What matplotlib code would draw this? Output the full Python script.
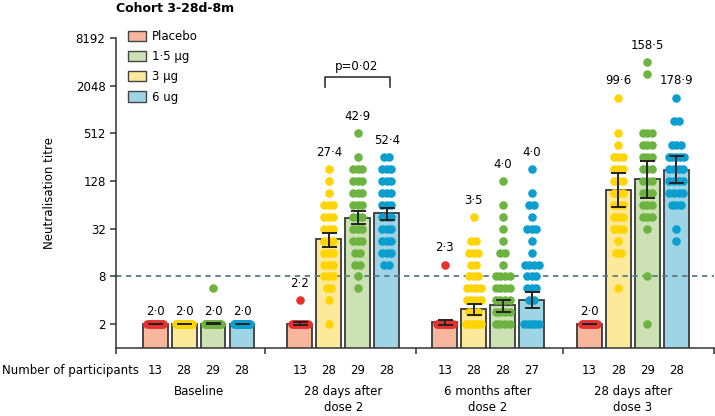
import numpy as np
import matplotlib.pyplot as plt
from matplotlib.patches import Patch
from matplotlib.ticker import NullLocator

"""
Cohort 3-28d-8m neutralisation titres, GMT bars with individual values
"""

timepoints = ["Baseline", "28 days after\ndose 2", "6 months after\ndose 2",
              "28 days after\ndose 3"]
# bar order inside each group: placebo, 3 ug, 1.5 ug, 6 ug
arm_fill = ["#f8b79c", "#fde99a", "#cde2b4", "#9dd5e6"]
arm_dot = ["#e8312f", "#ffd400", "#6db33f", "#0a9fcf"]

gmt_bar = [[2.0, 2.0, 2.0, 2.0],
           [2.0, 23.5, 44.0, 50.0],
           [2.1, 3.1, 3.5, 4.0],
           [2.0, 99.6, 135.0, 178.9]]
ci_low = [[2.0, 2.0, 2.0, 2.0],
          [1.95, 18.9, 36.7, 41.3],
          [1.95, 2.6, 2.83, 3.16],
          [2.0, 59.6, 77.6, 120.0]]
ci_high = [[2.0, 2.0, 2.05, 2.0],
           [2.15, 27.9, 53.0, 58.6],
           [2.25, 3.56, 4.0, 5.13],
           [2.0, 163.0, 228.0, 262.0]]
gmt_text = [["2·0", "2·0", "2·0", "2·0"],
            ["2·2", "27·4", "42·9", "52·4"],
            ["2·3", "3·5", "4·0", "4·0"],
            ["2·0", "99·6", "158·5", "178·9"]]
n_part = [[13, 28, 29, 28],
          [13, 28, 29, 28],
          [13, 28, 28, 27],
          [13, 28, 29, 28]]

# individual titres as (value, count)
baseline_dots = [
    [(2, 13)],
    [(2, 28)],
    [(2, 28), (5.66, 1)],
    [(2, 28)],
]
d28_dose2_dots = [
    [(2, 12), (4, 1)],
    [(181, 1), (128, 1), (90.5, 1), (64, 3), (45, 3), (32, 3), (22.6, 3),
     (16, 3), (11.3, 3), (8, 3), (5.66, 2), (4, 1), (2, 1)],
    [(512, 1), (256, 1), (181, 3), (128, 3), (90.5, 3), (64, 3), (45, 3),
     (32, 3), (22.6, 3), (16, 2), (11.3, 2), (8, 1), (5.66, 1)],
    [(256, 2), (181, 3), (128, 3), (90.5, 3), (64, 3), (45, 3), (32, 3),
     (22.6, 3), (16, 3), (11.3, 2)],
]
m6_dose2_dots = [
    [(2, 12), (11.3, 1)],
    [(45, 1), (22.6, 2), (16, 3), (11.3, 2), (8, 3), (5.66, 4), (4, 4),
     (2.83, 3), (2, 6)],
    [(128, 1), (64, 1), (45, 1), (32, 1), (22.6, 1), (16, 2), (11.3, 1),
     (8, 4), (5.66, 4), (4, 4), (2.83, 4), (2, 4)],
    [(181, 1), (90.5, 1), (64, 2), (45, 1), (32, 3), (22.6, 1), (16, 1),
     (11.3, 4), (8, 3), (5.66, 3), (4, 2), (2, 5)],
]
d28_dose3_dots = [
    [(2, 13)],
    [(1448, 1), (512, 1), (362, 1), (256, 3), (181, 3), (128, 3), (90.5, 3),
     (64, 3), (45, 3), (32, 3), (22.6, 1), (16, 2), (5.66, 1)],
    [(4096, 1), (2896, 1), (512, 3), (362, 3), (256, 3), (181, 3), (128, 3),
     (90.5, 3), (64, 3), (45, 3), (32, 1), (8, 1), (2, 1)],
    [(1448, 1), (724, 2), (362, 3), (256, 5), (181, 4), (128, 4), (90.5, 4),
     (64, 3), (32, 1), (22.6, 1)],
]
all_dots = [baseline_dots, d28_dose2_dots, m6_dose2_dots, d28_dose3_dots]

y_ticks = [2, 8, 32, 128, 512, 2048, 8192]

plt.rcParams['font.family'] = 'DejaVu Sans'
fs = 8.5

fig = plt.figure(figsize=(7.15, 4.16), dpi=100)
ax = fig.add_axes([116 / 715, 68 / 416, 598 / 715, 310 / 416])
ax.set_yscale('log', base=2)
ax.set_ylim(1, 8192)
ax.set_xlim(-1.35, 19.3)

ax.axhline(8, color='#5b7b8b', lw=1.3, ls=(0, (3, 2.5)), zorder=2)

step, maxw = 0.16, 0.27
for g in range(4):
    for b in range(4):
        x = g * 5 + b
        h = gmt_bar[g][b]
        ax.bar(x, h, width=0.86, bottom=0, color=arm_fill[b],
               edgecolor='#3a3a3a', lw=1.3, zorder=1)
        xs, ys = [], []
        for v, n in all_dots[g][b]:
            if (n - 1) / 2 * step > maxw:
                off = np.linspace(-maxw, maxw, n)
            else:
                off = (np.arange(n) - (n - 1) / 2) * step
            xs += list(x + off)
            ys += [v] * n
        ax.scatter(xs, ys, s=38, color=arm_dot[b], linewidths=0, zorder=3)
        ax.errorbar(x, h, yerr=[[h - ci_low[g][b]], [ci_high[g][b] - h]],
                    fmt='none', ecolor='#222222', elinewidth=1.4,
                    capsize=5.4, capthick=1.4, zorder=4)
        top = h if g == 0 else max(v for v, n in all_dots[g][b])
        dy = 9 if top <= 2 else 12
        ax.annotate(gmt_text[g][b], (x, top), xytext=(0, dy),
                    textcoords='offset points', ha='center', va='center',
                    fontsize=fs)
        ax.text(x, -0.071, str(n_part[g][b]), transform=ax.get_xaxis_transform(),
                ha='center', va='center', fontsize=fs)
    ax.text(g * 5 + 1.5, -0.118, timepoints[g], transform=ax.get_xaxis_transform(),
            ha='center', va='top', fontsize=fs, linespacing=1.3)

ax.text(-0.55, -0.071, "Number of participants", transform=ax.get_xaxis_transform(),
        ha='right', va='center', fontsize=fs)

# significance bracket
ax.plot([5.85, 5.85, 8.1, 8.1], [1960, 2620, 2620, 1960], color='#333333',
        lw=1.2, zorder=4)
ax.annotate("p=0·02", (6.97, 2620), xytext=(0, 8), textcoords='offset points',
            ha='center', va='center', fontsize=fs)

ax.set_yticks(y_ticks)
ax.set_yticklabels([str(t) for t in y_ticks], fontsize=fs)
ax.yaxis.set_minor_locator(NullLocator())
ax.set_xticks([-1.35, 3.8, 9.0, 14.1, 19.3])
ax.set_xticklabels([])
ax.tick_params(axis='both', length=4, width=1.1, color='#333333')
for s in ("top", "right"):
    ax.spines[s].set_visible(False)
for s in ("left", "bottom"):
    ax.spines[s].set_linewidth(1.1)
    ax.spines[s].set_color('#333333')
ax.set_ylabel("Neutralisation titre", fontsize=fs, labelpad=14)

handles = [Patch(facecolor=arm_fill[0], edgecolor='#444444', lw=1, label="Placebo"),
           Patch(facecolor=arm_fill[2], edgecolor='#444444', lw=1, label="1·5 µg"),
           Patch(facecolor=arm_fill[1], edgecolor='#444444', lw=1, label="3 µg"),
           Patch(facecolor=arm_fill[3], edgecolor='#444444', lw=1, label="6 ug")]
ax.legend(handles=handles, loc='upper left', bbox_to_anchor=(0.02, 1.025),
          frameon=False, fontsize=fs, borderpad=0, borderaxespad=0,
          handlelength=1.5, handleheight=0.95, handletextpad=0.5,
          labelspacing=0.6)

fig.text(116 / 715, 1 - 2 / 416, "Cohort 3-28d-8m", fontsize=9,
         fontweight='bold', ha='left', va='top')

plt.savefig("out.png", dpi=100)
